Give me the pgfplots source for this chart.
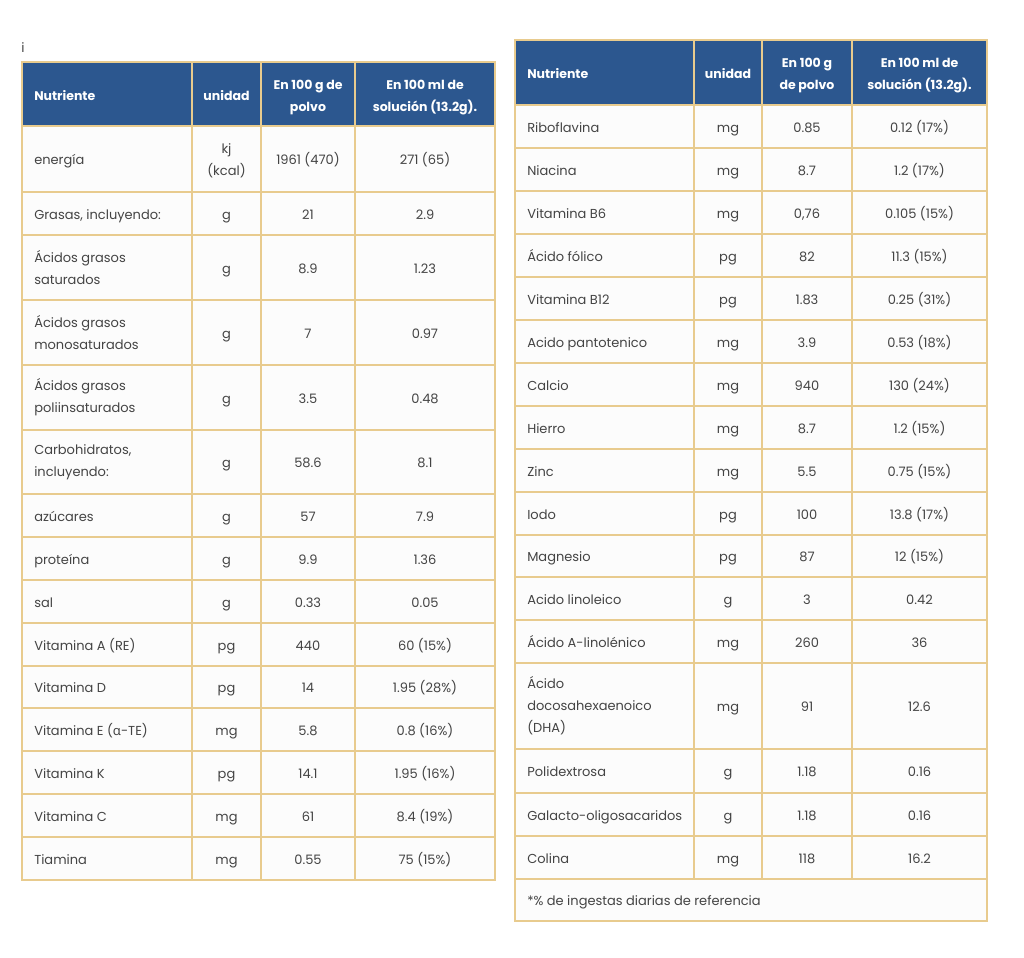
\documentclass[border=0pt]{standalone}
\usepackage{pgfplots}
\pgfplotsset{compat=1.18}
\usepackage{fontspec}
\setmainfont{Poppins}
\newfontfamily\grk{Noto Sans}
\definecolor{hdr}{RGB}{44,87,143}
\definecolor{brd}{RGB}{232,203,142}
\definecolor{txtc}{RGB}{68,68,68}
\definecolor{cellbg}{RGB}{252,252,252}
\tikzset{
 tx/.style={text=txtc,font=\fontsize{9.75}{16.5}\selectfont,inner sep=0pt},
 sl/.style={text height=7.2pt,text depth=2.2pt,yshift=-1.8pt},
 hd/.style={text=white,font=\bfseries\fontsize{9.4}{16.5}\selectfont,inner sep=0pt},
 gl/.style={draw=brd,line width=2pt,line cap=rect}
}
% left table row: [name style], mid-y, name, unit, v1, v2
\newcommand{\rowL}[6][sl]{%
 \node[tx,anchor=west,#1] at (axis cs:34,#2) {#3};
 \node[tx,sl] at (axis cs:226.5,#2) {#4};
 \node[tx,sl] at (axis cs:308,#2) {#5};
 \node[tx,sl] at (axis cs:425,#2) {#6};
}
\newcommand{\rowR}[6][sl]{%
 \node[tx,anchor=west,#1] at (axis cs:527,#2) {#3};
 \node[tx,sl] at (axis cs:728,#2) {#4};
 \node[tx,sl] at (axis cs:807,#2) {#5};
 \node[tx,sl] at (axis cs:919.5,#2) {#6};
}
\begin{document}
\begin{tikzpicture}
\begin{axis}[scale only axis, width=768pt, height=717.75pt,
  xmin=0, xmax=1024, ymin=0, ymax=957, y dir=reverse,
  hide axis, clip=false]
\addplot[draw=none] coordinates {(0,0) (1024,957)};
\fill[white] (axis cs:0,0) rectangle (axis cs:1024,957);
% ---------- left table ----------
\fill[cellbg] (axis cs:22,62) rectangle (axis cs:495,880);
\fill[hdr] (axis cs:22,62) rectangle (axis cs:495,126);
\draw[gl] (axis cs:22,62) rectangle (axis cs:495,880);
\draw[gl] (axis cs:192,62) -- (axis cs:192,880)
  (axis cs:261,62) -- (axis cs:261,880)
  (axis cs:355,62) -- (axis cs:355,880);
\draw[gl] (axis cs:22,126) -- (axis cs:495,126)
  (axis cs:22,192) -- (axis cs:495,192)
  (axis cs:22,235) -- (axis cs:495,235)
  (axis cs:22,300) -- (axis cs:495,300)
  (axis cs:22,365) -- (axis cs:495,365)
  (axis cs:22,430) -- (axis cs:495,430)
  (axis cs:22,494) -- (axis cs:495,494)
  (axis cs:22,537) -- (axis cs:495,537)
  (axis cs:22,580) -- (axis cs:495,580)
  (axis cs:22,623) -- (axis cs:495,623)
  (axis cs:22,666) -- (axis cs:495,666)
  (axis cs:22,708) -- (axis cs:495,708)
  (axis cs:22,751) -- (axis cs:495,751)
  (axis cs:22,794) -- (axis cs:495,794)
  (axis cs:22,837) -- (axis cs:495,837);
\node[hd,anchor=west] at (axis cs:34,95.5) {Nutriente};
\node[hd] at (axis cs:226.5,95.5) {unidad};
\node[hd,align=center] at (axis cs:308,97.5) {En 100 g de\\polvo};
\node[hd,align=center] at (axis cs:425,97.5) {En 100 ml de\\solución (13.2g).};
\node[tx,sl,anchor=west] at (axis cs:34,159) {energía};
\node[tx,align=center] at (axis cs:226.5,161) {kj\\(kcal)};
\node[tx,sl] at (axis cs:308,159) {1961 (470)};
\node[tx,sl] at (axis cs:425,159) {271 (65)};
\rowL{213.5}{Grasas, incluyendo:}{g}{21}{2.9}
\rowL[align=left]{267.5}{Ácidos grasos\\saturados}{g}{8.9}{1.23}
\rowL[align=left]{332.5}{Ácidos grasos\\monosaturados}{g}{7}{0.97}
\rowL[align=left]{397.5}{Ácidos grasos\\poliinsaturados}{g}{3.5}{0.48}
\rowL[align=left]{462}{Carbohidratos,\\incluyendo:}{g}{58.6}{8.1}
\rowL{515.5}{azúcares}{g}{57}{7.9}
\rowL{558.5}{proteína}{g}{9.9}{1.36}
\rowL{601.5}{sal}{g}{0.33}{0.05}
\rowL{644.5}{Vitamina A (RE)}{pg}{440}{60 (15\%)}
\rowL{687}{Vitamina D}{pg}{14}{1.95 (28\%)}
\rowL{729.5}{Vitamina E ({\grk α}-TE)}{mg}{5.8}{0.8 (16\%)}
\rowL{772.5}{Vitamina K}{pg}{14.1}{1.95 (16\%)}
\rowL{815.5}{Vitamina C}{mg}{61}{8.4 (19\%)}
\rowL{858.5}{Tiamina}{mg}{0.55}{75 (15\%)}
\node[tx,anchor=west] at (axis cs:21,48) {i};
% ---------- right table ----------
\fill[cellbg] (axis cs:515,40) rectangle (axis cs:987,921);
\fill[hdr] (axis cs:515,40) rectangle (axis cs:987,105);
\draw[gl] (axis cs:515,40) rectangle (axis cs:987,921);
\draw[gl] (axis cs:694,40) -- (axis cs:694,879)
  (axis cs:762,40) -- (axis cs:762,879)
  (axis cs:852,40) -- (axis cs:852,879);
\draw[gl] (axis cs:515,105) -- (axis cs:987,105)
  (axis cs:515,148) -- (axis cs:987,148)
  (axis cs:515,191) -- (axis cs:987,191)
  (axis cs:515,234) -- (axis cs:987,234)
  (axis cs:515,277) -- (axis cs:987,277)
  (axis cs:515,320) -- (axis cs:987,320)
  (axis cs:515,363) -- (axis cs:987,363)
  (axis cs:515,406) -- (axis cs:987,406)
  (axis cs:515,449) -- (axis cs:987,449)
  (axis cs:515,492) -- (axis cs:987,492)
  (axis cs:515,535) -- (axis cs:987,535)
  (axis cs:515,577) -- (axis cs:987,577)
  (axis cs:515,620) -- (axis cs:987,620)
  (axis cs:515,663) -- (axis cs:987,663)
  (axis cs:515,749) -- (axis cs:987,749)
  (axis cs:515,793) -- (axis cs:987,793)
  (axis cs:515,836) -- (axis cs:987,836)
  (axis cs:515,879) -- (axis cs:987,879);
\node[hd,anchor=west] at (axis cs:527,73.5) {Nutriente};
\node[hd] at (axis cs:728,73.5) {unidad};
\node[hd,align=center] at (axis cs:807,75.5) {En 100 g\\de polvo};
\node[hd,align=center] at (axis cs:919.5,75.5) {En 100 ml de\\solución (13.2g).};
\rowR{126.5}{Riboflavina}{mg}{0.85}{0.12 (17\%)}
\rowR{169.5}{Niacina}{mg}{8.7}{1.2 (17\%)}
\rowR{212.5}{Vitamina B6}{mg}{0,76}{0.105 (15\%)}
\rowR{255.5}{Ácido fólico}{pg}{82}{11.3 (15\%)}
\rowR{298.5}{Vitamina B12}{pg}{1.83}{0.25 (31\%)}
\rowR{341.5}{Acido pantotenico}{mg}{3.9}{0.53 (18\%)}
\rowR{384.5}{Calcio}{mg}{940}{130 (24\%)}
\rowR{427.5}{Hierro}{mg}{8.7}{1.2 (15\%)}
\rowR{470.5}{Zinc}{mg}{5.5}{0.75 (15\%)}
\rowR{513.5}{Iodo}{pg}{100}{13.8 (17\%)}
\rowR{556}{Magnesio}{pg}{87}{12 (15\%)}
\rowR{598.5}{Acido linoleico}{g}{3}{0.42}
\rowR{641.5}{Ácido A-linolénico}{mg}{260}{36}
\rowR[align=left]{706}{Ácido\\docosahexaenoico\\(DHA)}{mg}{91}{12.6}
\rowR{771}{Polidextrosa}{g}{1.18}{0.16}
\rowR{814.5}{Galacto-oligosacaridos}{g}{1.18}{0.16}
\rowR{857.5}{Colina}{mg}{118}{16.2}
\node[tx,sl,anchor=west] at (axis cs:527,900) {*\% de ingestas diarias de referencia};
\end{axis}
\end{tikzpicture}
\end{document}
